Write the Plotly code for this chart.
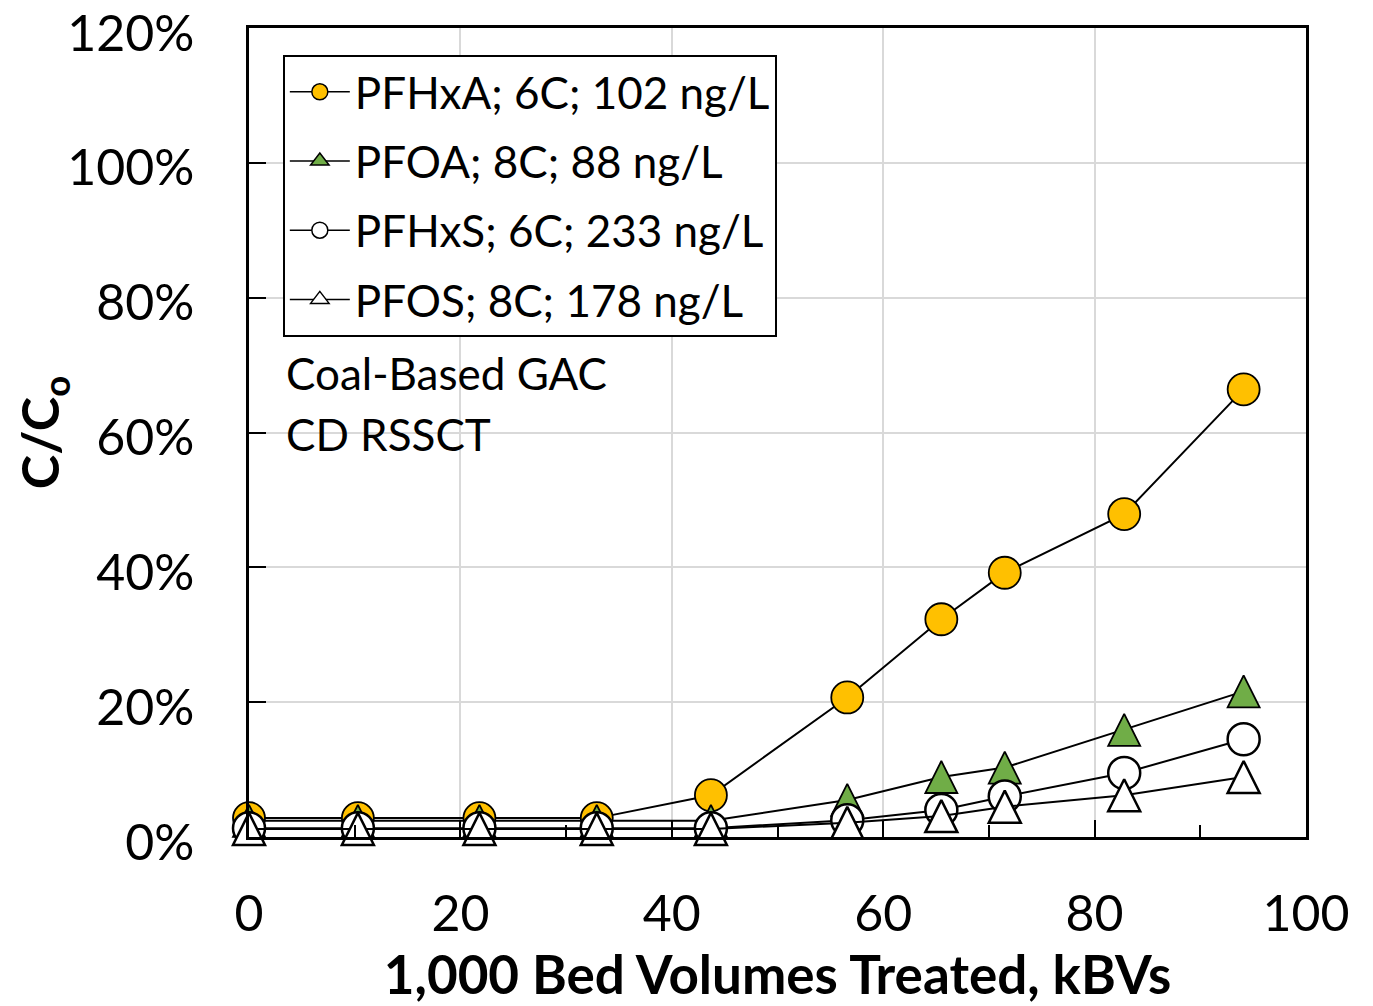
import plotly.graph_objects as go

# Data
bed_volumes_k = [0, 10.3, 21.8, 32.9, 43.7, 56.6, 65.5, 71.5, 82.8, 94.1]
pfhxa = [2.8, 2.8, 2.8, 2.8, 6.2, 20.7, 32.3, 39.2, 47.9, 66.4]
pfoa = [2.4, 2.4, 2.4, 2.4, 2.4, 5.5, 8.9, 10.3, 15.9, 21.6]
pfhxs = [1.3, 1.3, 1.3, 1.3, 1.3, 2.5, 4.0, 6.0, 9.5, 14.5]
pfos = [1.2, 1.2, 1.2, 1.2, 1.2, 2.1, 3.1, 4.5, 6.2, 8.9]

series_names = [
    "PFHxA; 6C; 102 ng/L",
    "PFOA; 8C; 88 ng/L",
    "PFHxS; 6C; 233 ng/L",
    "PFOS; 8C; 178 ng/L",
]
x_ticks = [0, 20, 40, 60, 80, 100]
y_ticks = [0, 20, 40, 60, 80, 100, 120]

FONT = "Lato, 'Open Sans', sans-serif"
CIRCLE = 32
TRI = 32

fig = go.Figure()


def add(y, name, symbol, legend_symbol, fill, lw, size, group, angle=0, standoff=0):
    # data trace
    fig.add_trace(go.Scatter(
        x=bed_volumes_k, y=y, name=name, mode="lines+markers",
        legendgroup=group, showlegend=False,
        line=dict(color="black", width=2),
        marker=dict(symbol=symbol, size=size, color=fill, angle=angle,
                    standoff=standoff,
                    line=dict(color="black", width=lw)),
        cliponaxis=False,
    ))
    # legend entry (no data)
    fig.add_trace(go.Scatter(
        x=[None], y=[None], name=name, mode="lines+markers",
        legendgroup=group, showlegend=True,
        line=dict(color="black", width=1.5),
        marker=dict(symbol=legend_symbol, size=16, color=fill,
                    line=dict(color="black", width=1.5)),
    ))


add(pfhxa, series_names[0], "circle", "circle", "#FFC000", 1.8, CIRCLE, "a")
add(pfoa, series_names[1], "arrow-down", "triangle-up", "#70AD47", 1.8, TRI, "b",
    angle=180, standoff=TRI / 2)
add(pfhxs, series_names[2], "circle", "circle", "white", 2.5, CIRCLE, "c")
add(pfos, series_names[3], "arrow-down", "triangle-up", "white", 2.5, TRI, "d",
    angle=180, standoff=TRI / 2)

axis_common = dict(
    showline=True, linecolor="black", linewidth=2.5, mirror=True,
    ticks="inside", tickcolor="black", tickwidth=2, ticklen=17,
    showgrid=True, gridcolor="#d9d9d9", gridwidth=1.5,
    zeroline=False, automargin=False,
    tickfont=dict(family=FONT, size=50, color="black"),
    ticklabeloverflow="allow",
)

fig.update_xaxes(
    range=[0, 100], tickvals=x_ticks, ticktext=[str(v) for v in x_ticks],
    ticklabelstandoff=31,
    minor=dict(dtick=10, ticks="inside", ticklen=12, tickcolor="black",
               tickwidth=2, showgrid=False),
    title=dict(text="<b>1,000 Bed Volumes Treated, kBVs</b>",
               font=dict(family=FONT, size=53, color="black"), standoff=16),
    **axis_common,
)
fig.update_yaxes(
    range=[0, 120], tickvals=y_ticks, ticktext=[f"{v}%" for v in y_ticks],
    ticklabelstandoff=42, ticklabelshift=5,
    title=dict(text="<b>C/C<sub>o</sub></b>",
               font=dict(family=FONT, size=52, color="black"), standoff=22),
    **axis_common,
)

fig.add_annotation(x=0.033, y=0.573, xref="paper", yref="paper",
                   xanchor="left", yanchor="middle", showarrow=False,
                   text="Coal-Based GAC",
                   font=dict(family=FONT, size=44, color="black"))
fig.add_annotation(x=0.033, y=0.498, xref="paper", yref="paper",
                   xanchor="left", yanchor="middle", showarrow=False,
                   text="CD RSSCT",
                   font=dict(family=FONT, size=44, color="black"))

# page body has an 8px margin; compensate so the plot area sits where the reference's does
fig.update_layout(
    width=1365, height=998,
    margin=dict(l=241, r=67, t=20, b=169, autoexpand=False),
    paper_bgcolor="white", plot_bgcolor="white",
    showlegend=True,
    legend=dict(
        x=0.032, y=0.967, xanchor="left", yanchor="top",
        bordercolor="black", borderwidth=2, bgcolor="white",
        font=dict(family=FONT, size=44, color="black"),
        tracegroupgap=9, itemwidth=60,
    ),
    font=dict(family=FONT, color="black"),
)

fig.write_html("out.html")
